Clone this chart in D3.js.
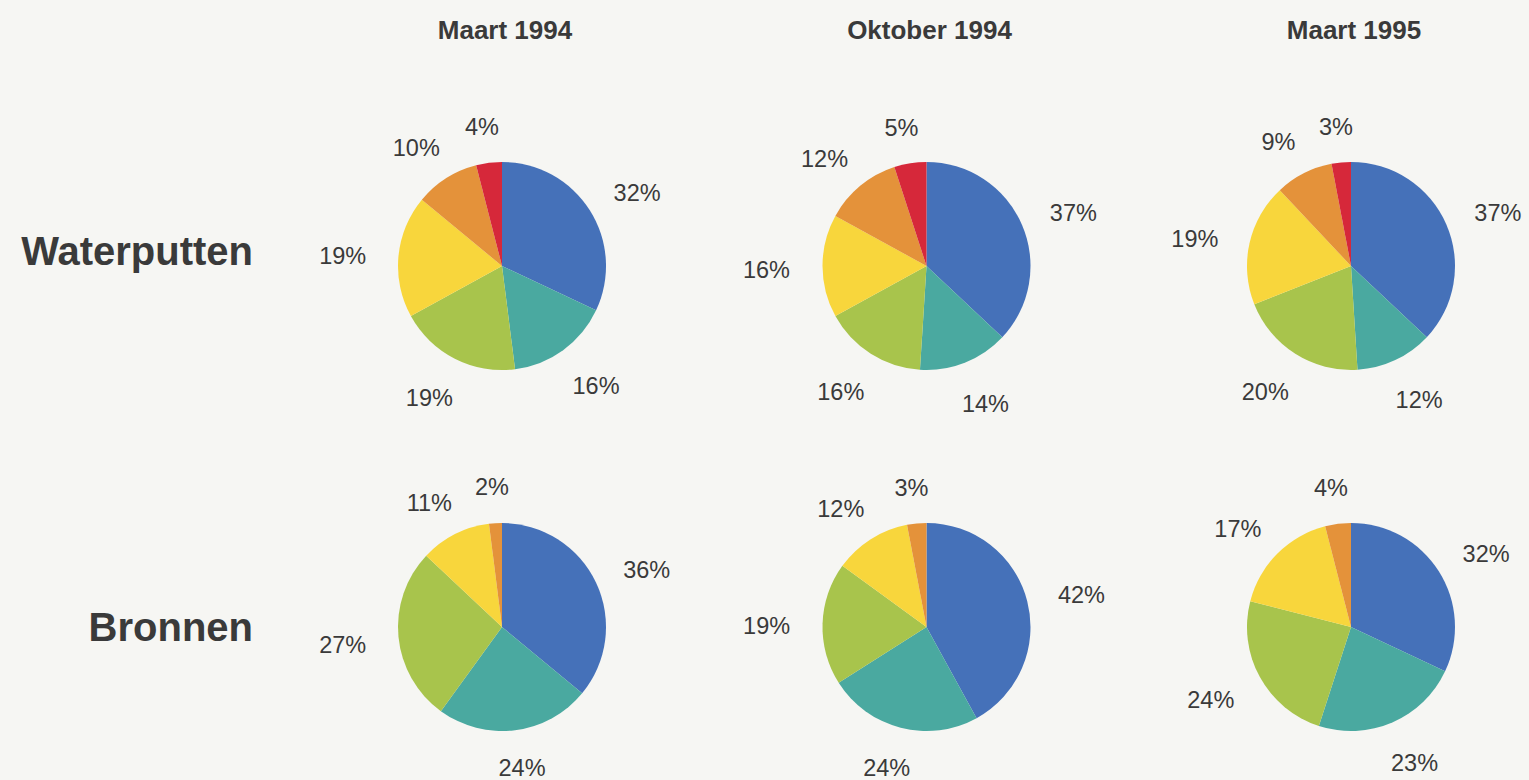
<!DOCTYPE html>
<html>
<head>
<meta charset="utf-8">
<script src="https://cdn.jsdelivr.net/npm/d3@7"></script>
<style>
  html, body { margin: 0; padding: 0; background: #f6f6f3; }
  svg { display: block; }
  text { font-family: "Liberation Sans", Arial, Helvetica, sans-serif; fill: #3a3a3a; }
</style>
</head>
<body>
<svg id="chart" width="1529" height="780"></svg>
<script>
// ---- data ----
const columns = ["Maart 1994", "Oktober 1994", "Maart 1995"];
const rows = ["Waterputten", "Bronnen"];
const categories = ["klasse 1", "klasse 2", "klasse 3", "klasse 4", "klasse 5", "klasse 6"];
const colors = ["#4571b9", "#4aa9a0", "#a8c44c", "#f8d63c", "#e4923a", "#d6283a"];
// percentages per category (clockwise from 12 o'clock), one array per period
const waterputten = [
  [32, 16, 19, 19, 10, 4],
  [37, 14, 16, 16, 12, 5],
  [37, 12, 20, 19, 9, 3]
];
const bronnen = [
  [36, 24, 27, 11, 2, 0],
  [42, 24, 19, 12, 3, 0],
  [32, 23, 24, 17, 4, 0]
];

// ---- layout ----
const svg = d3.select("#chart");
const W = 1529, H = 780;
svg.append("rect").attr("width", W).attr("height", H).attr("fill", "#f6f6f3");

const x = d3.scalePoint().domain(columns).range([502, 1351]);
const y = d3.scalePoint().domain(rows).range([266, 627]);
const color = d3.scaleOrdinal().domain(categories).range(colors);

const radius = 104;
const labelRx = 160, labelRy = 144, labelDy = 4;
const maxLabelY = H - 12; // keep label centres inside the picture

const pie = d3.pie().sort(null).value(d => d.value);
const arc = d3.arc().innerRadius(0).outerRadius(radius);

// column titles
svg.selectAll("text.col-title").data(columns).join("text")
  .attr("class", "col-title")
  .attr("x", d => x(d) + 3)
  .attr("y", 39)
  .attr("text-anchor", "middle")
  .attr("font-size", 26)
  .attr("font-weight", "bold")
  .text(d => d);

// row labels
const rowBaseline = { "Waterputten": -1, "Bronnen": 14 };
svg.selectAll("text.row-title").data(rows).join("text")
  .attr("class", "row-title")
  .attr("x", 253)
  .attr("y", d => y(d) + rowBaseline[d])
  .attr("text-anchor", "end")
  .attr("font-size", 40)
  .attr("font-weight", "bold")
  .text(d => d);

const series = { "Waterputten": waterputten, "Bronnen": bronnen };

rows.forEach(r => {
  columns.forEach((c, ci) => {
    const vals = series[r][ci]
      .map((v, i) => ({ cat: categories[i], value: v }))
      .filter(d => d.value > 0);
    const arcs = pie(vals);
    const cy = y(r);
    const g = svg.append("g").attr("transform", `translate(${x(c)},${cy})`);
    g.selectAll("path").data(arcs).join("path")
      .attr("d", arc)
      .attr("fill", d => color(d.data.cat));
    g.selectAll("text").data(arcs).join("text")
      .attr("x", d => labelRx * Math.sin((d.startAngle + d.endAngle) / 2))
      .attr("y", d => Math.min(-labelRy * Math.cos((d.startAngle + d.endAngle) / 2) + labelDy, maxLabelY - cy))
      .attr("text-anchor", "middle")
      .attr("dominant-baseline", "central")
      .attr("font-size", 23.5)
      .text(d => d.data.value + "%");
  });
});
</script>
</body>
</html>
